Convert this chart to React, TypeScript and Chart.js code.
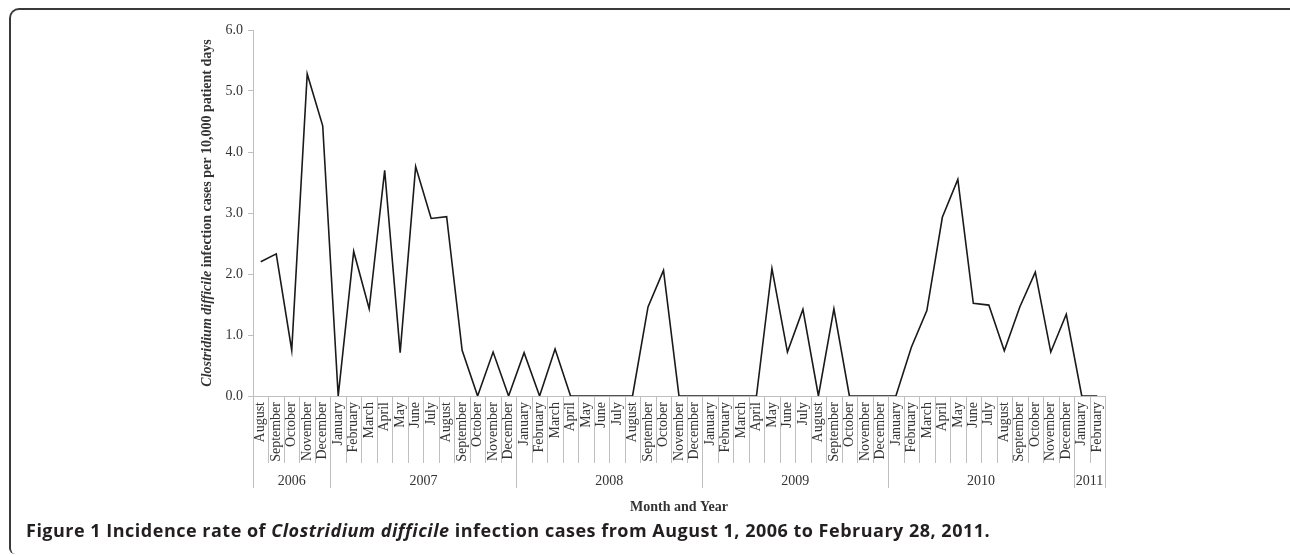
import React, { useEffect, useRef } from "react";
import { Chart, registerables } from "chart.js";

Chart.register(...registerables);

const months: string[] = [
  "August", "September", "October", "November", "December",
  "January", "February", "March", "April", "May", "June", "July", "August", "September", "October", "November", "December",
  "January", "February", "March", "April", "May", "June", "July", "August", "September", "October", "November", "December",
  "January", "February", "March", "April", "May", "June", "July", "August", "September", "October", "November", "December",
  "January", "February", "March", "April", "May", "June", "July", "August", "September", "October", "November", "December",
  "January", "February",
];

const yearLabels: string[] = ["2006", "2007", "2008", "2009", "2010", "2011"];
const yearMonthCounts: number[] = [5, 12, 12, 12, 12, 2];

const incidence: number[] = [
  2.2, 2.33, 0.75, 5.28, 4.43,
  0.0, 2.37, 1.43, 3.7, 0.71, 3.76, 2.91, 2.94, 0.75, 0.0, 0.72, 0.0,
  0.71, 0.0, 0.77, 0.0, 0.0, 0.0, 0.0, 0.0, 1.46, 2.06, 0.0, 0.0,
  0.0, 0.0, 0.0, 0.0, 2.09, 0.72, 1.42, 0.0, 1.43, 0.0, 0.0, 0.0,
  0.0, 0.8, 1.4, 2.93, 3.55, 1.52, 1.49, 0.74, 1.46, 2.03, 0.72, 1.34,
  0.0, 0.0,
];

const yTicks: number[] = [0, 1, 2, 3, 4, 5, 6];

const SERIF = '"Liberation Serif", "Times New Roman", serif';
const GRID = "#bfbfbf";
const TEXT = "#333333";

const excelAxisPlugin = {
  id: "excelAxis",
  afterDraw(chart: any) {
    const ctx = chart.ctx;
    const xs = chart.scales.x;
    const area = chart.chartArea;
    const n = months.length;
    const step = n > 1 ? xs.getPixelForValue(1) - xs.getPixelForValue(0) : area.right - area.left;
    const boundary = (i: number) => xs.getPixelForValue(i) - step / 2;
    const axisY = area.bottom;

    ctx.save();
    ctx.strokeStyle = GRID;
    ctx.lineWidth = 1;
    for (let i = 0; i <= n; i++) {
      const x = Math.round(boundary(i)) + 0.5;
      ctx.beginPath();
      ctx.moveTo(x, axisY);
      ctx.lineTo(x, axisY + 67);
      ctx.stroke();
    }
    let idx = 0;
    ctx.fillStyle = TEXT;
    ctx.font = `14px ${SERIF}`;
    ctx.textAlign = "center";
    ctx.textBaseline = "middle";
    const drawYearLine = (i: number) => {
      const x = Math.round(boundary(i)) + 0.5;
      ctx.beginPath();
      ctx.moveTo(x, axisY);
      ctx.lineTo(x, axisY + 92);
      ctx.stroke();
    };
    drawYearLine(0);
    for (let k = 0; k < yearLabels.length; k++) {
      const start = idx;
      const end = idx + yearMonthCounts[k];
      drawYearLine(end);
      const cx = (boundary(start) + boundary(end)) / 2;
      ctx.fillText(yearLabels[k], cx, axisY + 85);
      idx = end;
    }

    ctx.font = `bold 14px ${SERIF}`;
    ctx.fillText("Month and Year", (area.left + area.right) / 2, axisY + 111);

    const partA = "Clostridium difficile";
    const partB = " infection cases per 10,000 patient days";
    const fontA = `italic bold 14px ${SERIF}`;
    const fontB = `bold 14px ${SERIF}`;
    ctx.font = fontA;
    const wA = ctx.measureText(partA).width;
    ctx.font = fontB;
    const wB = ctx.measureText(partB).width;
    const total = wA + wB;
    ctx.translate(207, (area.top + area.bottom) / 2);
    ctx.rotate(-Math.PI / 2);
    ctx.textAlign = "left";
    ctx.font = fontA;
    ctx.fillText(partA, -total / 2, 0);
    ctx.font = fontB;
    ctx.fillText(partB, -total / 2 + wA, 0);
    ctx.restore();
  },
};

export default function App() {
  const canvasRef = useRef<HTMLCanvasElement | null>(null);

  useEffect(() => {
    if (!canvasRef.current) return;
    const chart = new Chart(canvasRef.current, {
      type: "line",
      data: {
        labels: months,
        datasets: [
          {
            data: incidence,
            borderColor: "#1a1a1a",
            borderWidth: 1.6,
            pointRadius: 0,
            tension: 0,
            fill: false,
          },
        ],
      },
      options: {
        animation: false,
        responsive: false,
        maintainAspectRatio: false,
        layout: { padding: { left: 0, right: 185, top: 30, bottom: 0 } },
        plugins: {
          legend: { display: false },
          tooltip: { enabled: false },
        },
        scales: {
          x: {
            type: "category",
            offset: true,
            grid: { display: false, drawTicks: false },
            border: { display: true, color: GRID, width: 1 },
            ticks: {
              autoSkip: false,
              maxRotation: 90,
              minRotation: 90,
              padding: 6,
              color: TEXT,
              font: { family: SERIF, size: 14 },
            },
            afterFit(scale: any) {
              scale.height = 159;
            },
          },
          y: {
            min: 0,
            max: 6,
            afterBuildTicks(scale: any) {
              scale.ticks = yTicks.map((v) => ({ value: v }));
            },
            grid: {
              display: true,
              drawOnChartArea: false,
              drawTicks: true,
              tickLength: 5,
              color: GRID,
            },
            border: { display: true, color: GRID, width: 1 },
            ticks: {
              padding: 5,
              color: TEXT,
              font: { family: SERIF, size: 14 },
              callback: (v: any) => Number(v).toFixed(1),
            },
            afterFit(scale: any) {
              scale.width = 253;
            },
          },
        },
      },
      plugins: [excelAxisPlugin],
    });
    return () => chart.destroy();
  }, []);

  return (
    <div
      style={{
        position: "fixed",
        left: 0,
        top: 0,
        width: 1290,
        height: 555,
        background: "#ffffff",
        overflow: "hidden",
      }}
    >
      <div
        style={{
          position: "absolute",
          left: 9,
          top: 8,
          width: 1300,
          height: 546,
          borderTop: "2px solid #3a3a3a",
          borderLeft: "2px solid #3a3a3a",
          borderTopLeftRadius: 10,
          borderBottomLeftRadius: 6,
          boxSizing: "border-box",
        }}
      />
      <canvas
        ref={canvasRef}
        width={1290}
        height={555}
        style={{ position: "absolute", left: 0, top: 0, width: 1290, height: 555 }}
      />
      <div
        style={{
          position: "absolute",
          left: 26,
          top: 520,
          fontFamily: '"Open Sans", sans-serif',
          fontWeight: 700,
          fontSize: 18,
          letterSpacing: 0.5,
          lineHeight: "20px",
          color: "#231f20",
          whiteSpace: "nowrap",
        }}
      >
        Figure 1 Incidence rate of <i>Clostridium difficile</i> infection cases from August 1, 2006 to February 28, 2011.
      </div>
    </div>
  );
}
